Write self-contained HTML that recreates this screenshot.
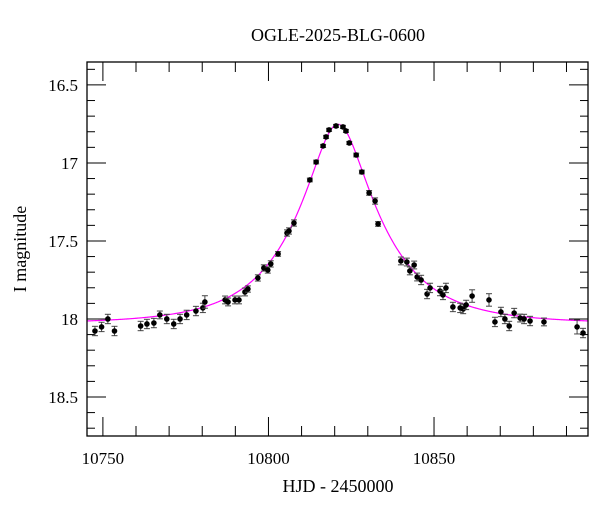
<!DOCTYPE html>
<html><head><meta charset="utf-8"><style>
html,body{margin:0;padding:0;background:#fff;}
svg{display:block;font-family:"Liberation Serif",serif;}
</style></head><body>
<svg id="chart" width="600" height="512" viewBox="0 0 600 512" xmlns="http://www.w3.org/2000/svg">
<text x="338" y="41" text-anchor="middle" font-size="18">OGLE-2025-BLG-0600</text>
<text x="338" y="492" text-anchor="middle" font-size="18">HJD - 2450000</text>
<text transform="translate(26,249) rotate(-90)" text-anchor="middle" font-size="18">I magnitude</text>
<g id="ticks"></g>
<g id="model"></g>
<g id="points"></g>
<rect x="87" y="62" width="501" height="374" fill="none" stroke="#000" stroke-width="1.3"/>
</svg>
<script>
const hjd=[10747.6,10749.6,10751.5,10753.5,10761.4,10763.3,10765.4,10767.2,10769.3,10771.4,10773.3,10775.3,10778.1,10780.2,10780.8,10786.9,10787.8,10789.9,10791.1,10792.9,10793.8,10796.8,10798.6,10799.8,10800.7,10802.9,10805.6,10806.2,10807.7,10812.5,10814.4,10816.5,10817.4,10818.3,10820.4,10822.5,10823.4,10824.4,10826.5,10828.2,10830.4,10832.2,10833.1,10840.0,10841.8,10842.7,10844.0,10844.9,10846.1,10847.9,10848.8,10851.8,10852.7,10853.6,10855.7,10857.9,10858.8,10859.7,10861.5,10866.6,10868.4,10870.2,10871.4,10872.7,10874.2,10876.0,10877.2,10879.0,10883.2,10893.2,10895.0];
const mag=[18.077,18.051,18.0,18.077,18.045,18.032,18.026,17.974,18.0,18.032,18.0,17.974,17.949,17.929,17.891,17.878,17.891,17.878,17.878,17.827,17.808,17.737,17.673,17.686,17.647,17.583,17.449,17.436,17.385,17.109,16.994,16.891,16.833,16.788,16.763,16.769,16.795,16.872,16.949,17.058,17.192,17.244,17.391,17.628,17.635,17.692,17.654,17.731,17.750,17.840,17.801,17.821,17.846,17.801,17.923,17.929,17.936,17.910,17.853,17.878,18.019,17.955,18.0,18.045,17.962,17.994,18.0,18.013,18.019,18.051,18.090];
const errs=[0.03,0.03,0.03,0.03,0.03,0.03,0.03,0.025,0.03,0.03,0.03,0.03,0.03,0.03,0.04,0.025,0.025,0.025,0.025,0.025,0.02,0.02,0.02,0.02,0.02,0.015,0.02,0.02,0.02,0.012,0.012,0.01,0.01,0.01,0.01,0.01,0.01,0.01,0.012,0.012,0.015,0.02,0.015,0.025,0.025,0.025,0.025,0.025,0.03,0.03,0.03,0.03,0.03,0.03,0.03,0.03,0.03,0.03,0.04,0.04,0.03,0.03,0.03,0.03,0.03,0.025,0.03,0.03,0.025,0.045,0.03];
const xTicks=[10750,10800,10850];
const yTicks=[16.5,17,17.5,18,18.5];
const t0=10821, tE=25, u0=0.32, baseMag=18.03;

const X0=87,X1=588,Y0=62,Y1=436, tMin=10745.2,tMax=10896.5, mTop=16.353,mBot=18.75;
const sx=t=>X0+(t-tMin)/(tMax-tMin)*(X1-X0);
const sy=m=>Y0+(m-mTop)/(mBot-mTop)*(Y1-Y0);
const NS="http://www.w3.org/2000/svg";
function mk(tag,attrs,parent){const e=document.createElementNS(NS,tag);for(const k in attrs)e.setAttribute(k,attrs[k]);parent.appendChild(e);return e;}
const tg=document.getElementById('ticks');
for(let t=10750;t<=10890;t+=10){
  const L=(t%50===0)?19:10,x=sx(t);
  const a=mk('line',{x1:x,x2:x,y1:Y1,y2:Y1-L,stroke:'#000','stroke-width':1},tg);
  
  
  const b=mk('line',{x1:x,x2:x,y1:Y0,y2:Y0+L,stroke:'#000','stroke-width':1},tg);
  
  
}
for(let i=4;i<=27;i++){
  const m=i/10+16,y=sy(m),maj=(i%5===0);const L=maj?19:8;
  if(y<Y0||y>Y1)continue;
  const a=mk('line',{x1:X0,x2:X0+L,y1:y,y2:y,stroke:'#000','stroke-width':1},tg);
  
  
  const b=mk('line',{x1:X1,x2:X1-L,y1:y,y2:y,stroke:'#000','stroke-width':1},tg);
  
  
}
xTicks.forEach(t=>{const e=mk('text',{x:sx(t),y:464,'text-anchor':'middle','font-size':17},tg);e.textContent=String(t);
  
  });
yTicks.forEach(m=>{const e=mk('text',{x:78,y:sy(m)+6,'text-anchor':'end','font-size':17},tg);e.textContent=String(m);
  
  });
let d='';
for(let t=tMin;t<=tMax;t+=0.25){const u=Math.sqrt(u0*u0+((t-t0)/tE)**2);const A=(u*u+2)/(u*Math.sqrt(u*u+4));const m=baseMag-2.5*Math.log10(A);d+=(d?'L':'M')+sx(t).toFixed(2)+','+sy(m).toFixed(2);}
const mp=mk('path',{d:d,fill:'none',stroke:'#ff00ff','stroke-width':1.2},document.getElementById('model'));


const pg=document.getElementById('points');
hjd.forEach((t,i)=>{const x=sx(t),y=sy(mag[i]),ya=sy(mag[i]-errs[i]),yb=sy(mag[i]+errs[i]);
  const g=mk('g',{},pg);
  
  
  mk('line',{x1:x,x2:x,y1:ya,y2:yb,stroke:'#444','stroke-width':1},g);
  mk('line',{x1:x-3,x2:x+3,y1:ya,y2:ya,stroke:'#444','stroke-width':1},g);
  mk('line',{x1:x-3,x2:x+3,y1:yb,y2:yb,stroke:'#444','stroke-width':1},g);
  mk('circle',{cx:x,cy:y,r:2.8,fill:'#000'},g);
});
</script>
</body></html>
